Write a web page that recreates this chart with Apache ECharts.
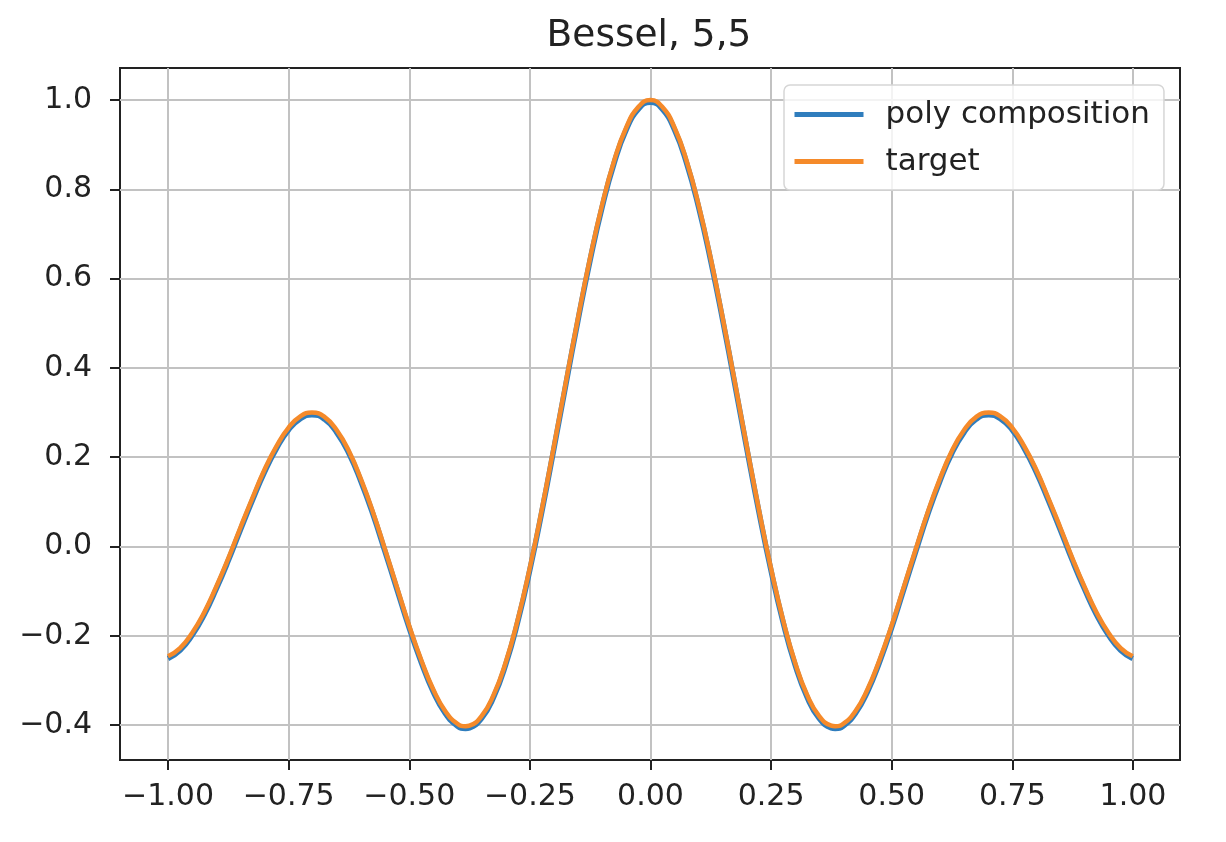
<!DOCTYPE html>
<html>
<head>
<meta charset="utf-8">
<script src="https://cdn.jsdelivr.net/npm/echarts@6/dist/echarts.min.js"></script>
<style>
html,body{margin:0;padding:0;background:#fff;}
#chart{width:1226px;height:842px;}
</style>
</head>
<body>
<div id="chart"></div>
<script>
// ---- data ----
var titleText = 'Bessel, 5,5';
var seriesNames = ['poly composition', 'target'];
var xs = [-1.000,-0.975,-0.950,-0.925,-0.900,-0.875,-0.850,-0.825,-0.800,-0.775,
          -0.750,-0.725,-0.7016,-0.675,-0.650,-0.625,-0.600,-0.575,-0.550,-0.525,
          -0.500,-0.475,-0.450,-0.425,-0.400,-0.3832,-0.375,-0.350,-0.325,-0.300,-0.275,
          -0.250,-0.225,-0.200,-0.175,-0.150,-0.125,-0.100,-0.075,-0.050,-0.025,
           0.000,
           0.025, 0.050, 0.075, 0.100, 0.125, 0.150, 0.175, 0.200, 0.225, 0.250,
           0.275, 0.300, 0.325, 0.350, 0.375, 0.3832, 0.400, 0.425, 0.450, 0.475, 0.500,
           0.525, 0.550, 0.575, 0.600, 0.625, 0.650, 0.675, 0.7016, 0.725, 0.750,
           0.775, 0.800, 0.825, 0.850, 0.875, 0.900, 0.925, 0.950, 0.975, 1.000];
var targetY = [-0.2459,-0.2276,-0.1939,-0.1479,-0.0903,-0.0267,0.0419,0.1085,0.1717,0.2247,
               0.2663,0.2919,0.3001,0.2897,0.2601,0.2137,0.1506,0.0768,-0.0068,-0.0922,
               -0.1776,-0.2543,-0.3205,-0.3691,-0.3971,-0.4028,-0.4014,-0.3801,-0.3326,-0.2601,-0.1641,
               -0.0484,0.0827,0.2239,0.3690,0.5118,0.6459,0.7652,0.8642,0.9385,0.9844,
               1.0000,
               0.9844,0.9385,0.8642,0.7652,0.6459,0.5118,0.3690,0.2239,0.0827,-0.0484,
               -0.1641,-0.2601,-0.3326,-0.3801,-0.4014,-0.4028,-0.3971,-0.3691,-0.3205,-0.2543,-0.1776,
               -0.0922,-0.0068,0.0768,0.1506,0.2137,0.2601,0.2897,0.3001,0.2919,0.2663,
               0.2247,0.1717,0.1085,0.0419,-0.0267,-0.0903,-0.1479,-0.1939,-0.2276,-0.2459];
var polyY = [-0.2509,-0.2326,-0.1989,-0.1529,-0.0953,-0.0317,0.0369,0.1035,0.1667,0.2197,
             0.2613,0.2869,0.2951,0.2847,0.2551,0.2087,0.1456,0.0718,-0.0118,-0.0972,
             -0.1826,-0.2593,-0.3255,-0.3741,-0.4021,-0.4078,-0.4064,-0.3851,-0.3376,-0.2651,-0.1691,
             -0.0534,0.0777,0.2189,0.3640,0.5068,0.6409,0.7602,0.8592,0.9335,0.9794,
             0.9950,
             0.9794,0.9335,0.8592,0.7602,0.6409,0.5068,0.3640,0.2189,0.0777,-0.0534,
             -0.1691,-0.2651,-0.3376,-0.3851,-0.4064,-0.4078,-0.4021,-0.3741,-0.3255,-0.2593,-0.1826,
             -0.0972,-0.0118,0.0718,0.1456,0.2087,0.2551,0.2847,0.2951,0.2869,0.2613,
             0.2197,0.1667,0.1035,0.0369,-0.0317,-0.0953,-0.1529,-0.1989,-0.2326,-0.2509];
var xTicks = {min: -1, max: 1, step: 0.25};
var yTicks = {min: -0.4, max: 1.0, step: 0.2};

// ---- chart ----
var FONT = 'DejaVu Sans';
var TXT = '#222';
var BLUE = '#2f7dbd', ORANGE = '#f58a2a';
function minus(s){ return s.replace('-', '\u2212'); }
function pairs(xa, ya){ var o=[]; for (var i=0;i<xa.length;i++) o.push([xa[i], ya[i]]); return o; }

var TITLE_SIZE = 37.5;
var cvs = document.createElement('canvas').getContext('2d');
cvs.font = TITLE_SIZE + 'px "' + FONT + '"';
var titleW = cvs.measureText(titleText).width;

var chart = echarts.init(document.getElementById('chart'), null, {renderer: 'canvas'});
var gridLine = {show: true, lineStyle: {color: '#c2c2c2', width: 2}};
var tick = {show: true, inside: false, length: 10, lineStyle: {color: '#222', width: 2}};
var option = {
  backgroundColor: '#fff',
  animation: false,
  title: {
    text: titleText, left: 649 - titleW / 2, top: 17, padding: 0,
    textStyle: {fontFamily: FONT, fontSize: TITLE_SIZE, fontWeight: 'normal', color: TXT}
  },
  legend: {
    orient: 'vertical', left: 784, top: 85,
    padding: [14, 14, 13, 8], itemGap: 16,
    itemWidth: 69, itemHeight: 6,
    backgroundColor: 'rgba(255,255,255,0.8)', borderColor: '#d6d6d6', borderWidth: 1.5, borderRadius: 6,
    textStyle: {fontFamily: FONT, fontSize: 31, color: TXT, lineHeight: 31, padding: [0, 0, 0, 17]},
    data: [
      {name: seriesNames[0], itemStyle: {color: BLUE, borderWidth: 0}, lineStyle: {color: BLUE, width: 5}},
      {name: seriesNames[1], itemStyle: {opacity: 0}, lineStyle: {color: ORANGE, width: 5}}
    ]
  },
  grid: [
    {left: 120, top: 68, width: 1060, height: 692, show: true, borderColor: '#222', borderWidth: 2, backgroundColor: 'transparent'},
    {left: 168, top: 68, width: 965, height: 692},
    {left: 120, top: 100, width: 1060, height: 625}
  ],
  xAxis: [
    {gridIndex: 0, type: 'value', min: -1.0995, max: 1.098, show: false},
    {gridIndex: 1, type: 'value', min: xTicks.min, max: xTicks.max, interval: xTicks.step,
     axisLine: {show: false}, axisTick: tick, splitLine: gridLine,
     axisLabel: {margin: 22, fontFamily: FONT, fontSize: 30, color: TXT,
                 formatter: function(v){ return minus(v.toFixed(2)); }}},
    {gridIndex: 2, type: 'value', min: 0, max: 1, show: false}
  ],
  yAxis: [
    {gridIndex: 0, type: 'value', min: -0.4784, max: 1.0717, show: false},
    {gridIndex: 1, type: 'value', min: 0, max: 1, show: false},
    {gridIndex: 2, type: 'value', min: yTicks.min, max: yTicks.max, interval: yTicks.step,
     axisLine: {show: false}, axisTick: tick, splitLine: gridLine,
     axisLabel: {margin: 28, fontFamily: FONT, fontSize: 30, color: TXT,
                 formatter: function(v){ return minus(v.toFixed(1)); }}}
  ],
  series: [
    {name: seriesNames[0], type: 'line', xAxisIndex: 0, yAxisIndex: 0, data: pairs(xs, polyY),
     smooth: true, symbol: 'circle', symbolSize: 3, showSymbol: false, clip: false,
     lineStyle: {color: BLUE, width: 5.5}, itemStyle: {color: BLUE}, z: 3},
    {name: seriesNames[1], type: 'line', xAxisIndex: 0, yAxisIndex: 0, data: pairs(xs, targetY),
     smooth: true, symbol: 'none', showSymbol: false, clip: false,
     lineStyle: {color: ORANGE, width: 4.5}, itemStyle: {color: ORANGE}, z: 4}
  ]
};
chart.setOption(option);
</script>
</body>
</html>
